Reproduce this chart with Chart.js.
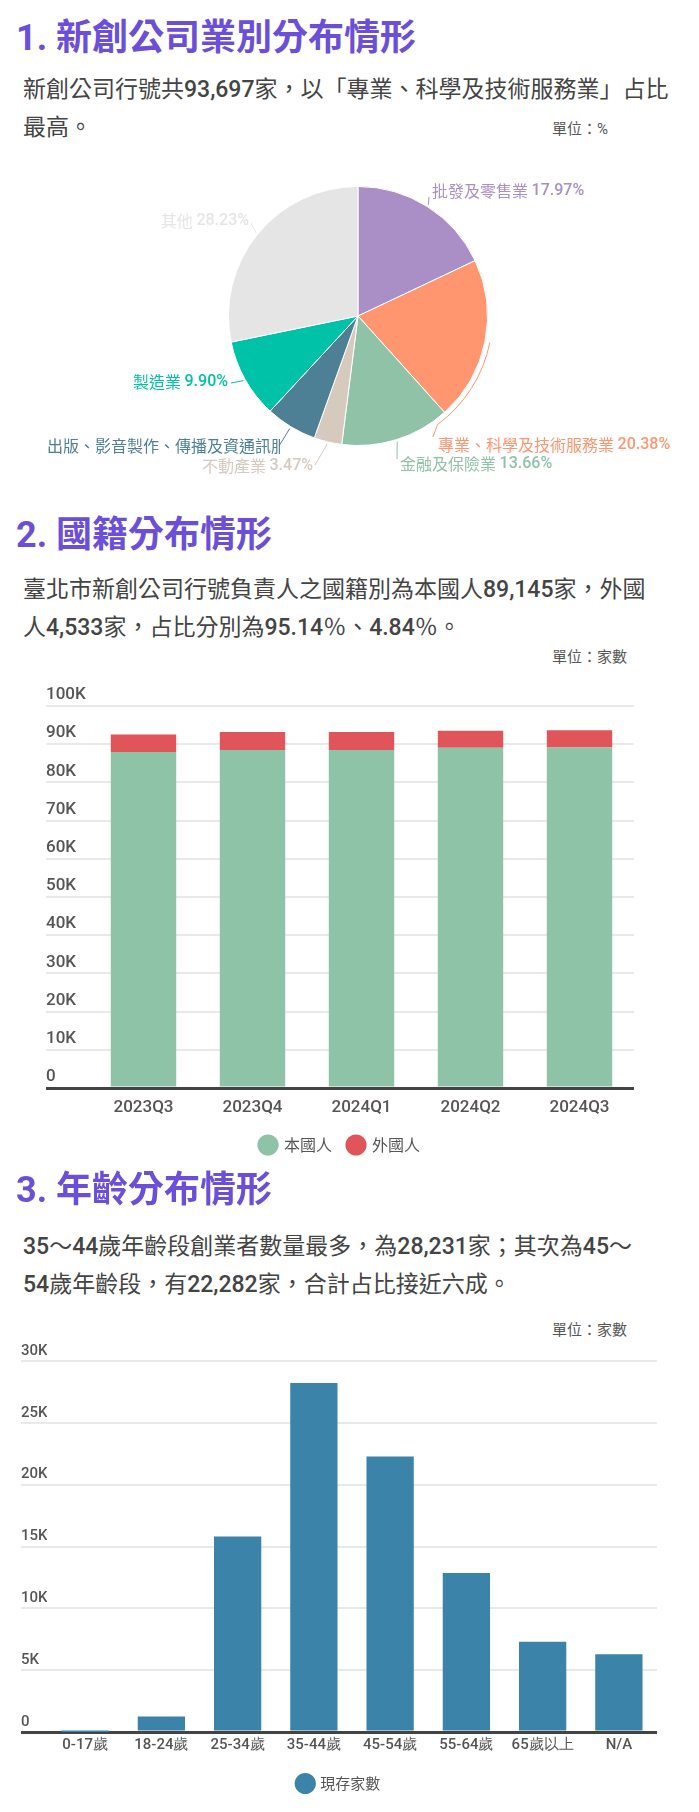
<!DOCTYPE html>
<html lang="zh-Hant">
<head>
<meta charset="utf-8">
<title>新創公司統計</title>
<script src="https://cdn.jsdelivr.net/npm/chart.js@4.4.1/dist/chart.umd.min.js"></script>
<style>
  body { margin: 0; width: 699px; height: 1812px; position: relative; overflow: hidden; background: #fff;
         font-family: Roboto, "Noto Sans CJK TC", sans-serif; color: #444; }
  .title { position: absolute; left: 16px; font-size: 36px; line-height: 36px; font-weight: 700; color: #6b4fd8; white-space: nowrap; }
  .para { position: absolute; left: 23px; width: 670px; font-size: 23px; line-height: 38px; color: #444; white-space: nowrap; }
  .para b { font-weight: 500; }
  .unit { position: absolute; left: 552px; font-size: 15px; line-height: 18px; color: #555; white-space: nowrap; }
  canvas { position: absolute; left: 0; }
</style>
</head>
<body>
<div class="title" style="top:20px">1. 新創公司業別分布情形</div>
<div class="para" style="top:71px">新創公司行號共<b>93,697</b>家，以「專業、科學及技術服務業」占比<br>最高。</div>
<div class="unit" style="top:120px">單位：%</div>
<canvas id="industryPie" width="699" height="350" style="top:150px"></canvas>

<div class="title" style="top:517px">2. 國籍分布情形</div>
<div class="para" style="top:571px">臺北市新創公司行號負責人之國籍別為本國人<b>89,145</b>家，外國<br>人<b>4,533</b>家，占比分別為<b>95.14</b>％、<b>4.84</b>％。</div>
<div class="unit" style="top:648px">單位：家數</div>
<canvas id="nationBar" width="699" height="500" style="top:670px"></canvas>

<div class="title" style="top:1172px">3. 年齡分布情形</div>
<div class="para" style="top:1228px"><b>35</b>～<b>44</b>歲年齡段創業者數量最多，為<b>28,231</b>家；其次為<b>45</b>～<br><b>54</b>歲年齡段，有<b>22,282</b>家，合計占比接近六成。</div>
<div class="unit" style="top:1321px">單位：家數</div>
<canvas id="ageBar" width="699" height="477" style="top:1335px"></canvas>

<script>
// 業別分布 (%)
let industryLabels = ['批發及零售業', '專業、科學及技術服務業', '金融及保險業', '不動產業', '出版、影音製作、傳播及資通訊服務業', '製造業', '其他'];
let industryShare = [17.97, 20.38, 13.66, 3.47, 6.39, 9.90, 28.23];
let industryColors = ['#a98fc6', '#ff9670', '#8fc2a6', '#d6cabf', '#4e8095', '#00c2a8', '#e5e5e5'];

// 國籍分布 (家數)
let quarterLabels = ['2023Q3', '2023Q4', '2024Q1', '2024Q2', '2024Q3'];
let localOwners = [87950, 88500, 88450, 89050, 89145];
let foreignOwners = [4620, 4700, 4720, 4450, 4533];

// 年齡分布 (家數)
let ageLabels = ['0-17歲', '18-24歲', '25-34歲', '35-44歲', '45-54歲', '55-64歲', '65歲以上', 'N/A'];
let ageCounts = [10, 1250, 15800, 28231, 22282, 12850, 7300, 6280];

// where each pie label sits, relative to the pie centre
let pieLabelLayout = [
  {lead: [71, -119], text: [74, -125], align: 'left'},
  {lead: [75, 121], text: [80, 129], align: 'left', bracket: true},
  {lead: [39, 143], text: [42, 148], align: 'left'},
  {lead: [-43, 149], text: [-45, 150], align: 'right'},
  {lead: [-79, 130], text: [-311, 130], align: 'left', clip: -78},
  {lead: [-127, 67], text: [-130, 66], align: 'right'},
  {lead: [-107, -93], text: [-109, -95], align: 'right'}
];

let nameFont = '16px "Noto Sans CJK TC"';
let pctFont = '500 16px Roboto';

let pieLabels = {
  id: 'pieLabels',
  afterDraw(chart) {
    let ctx = chart.ctx;
    let meta = chart.getDatasetMeta(0);
    meta.data.forEach((arc, i) => {
      let p = arc.getProps(['x', 'y', 'startAngle', 'endAngle', 'outerRadius'], true);
      let lay = pieLabelLayout[i];
      let color = industryColors[i];
      let mid = (p.startAngle + p.endAngle) / 2;
      ctx.save();
      ctx.strokeStyle = color;
      ctx.lineWidth = 1;
      ctx.beginPath();
      if (lay.bracket) {
        let r = p.outerRadius + 5;
        ctx.arc(p.x, p.y, r, mid, p.endAngle + 0.1);
      } else {
        let r = p.outerRadius + 2;
        ctx.moveTo(p.x + Math.cos(mid) * r, p.y + Math.sin(mid) * r);
      }
      ctx.lineTo(p.x + lay.lead[0], p.y + lay.lead[1]);
      ctx.stroke();

      if (lay.clip != undefined) {
        ctx.beginPath();
        ctx.rect(0, 0, p.x + lay.clip, chart.height);
        ctx.clip();
      }
      let name = industryLabels[i] + ' ';
      let pct = industryShare[i].toFixed(2) + '%';
      ctx.font = nameFont;
      let w1 = ctx.measureText(name).width;
      ctx.font = pctFont;
      let w2 = ctx.measureText(pct).width;
      let x = p.x + lay.text[0];
      if (lay.align == 'right') x -= w1 + w2;
      let y = p.y + lay.text[1];
      ctx.fillStyle = color;
      ctx.textBaseline = 'middle';
      ctx.textAlign = 'left';
      ctx.font = nameFont;
      ctx.fillText(name, x, y);
      ctx.font = pctFont;
      ctx.fillText(pct, x + w1, y);
      ctx.restore();
    });
  }
};

new Chart(document.getElementById('industryPie'), {
  type: 'pie',
  data: {
    labels: industryLabels,
    datasets: [{data: industryShare, backgroundColor: industryColors, borderColor: '#fff', borderWidth: 1}]
  },
  options: {
    responsive: false,
    animation: false,
    layout: {padding: {top: 36, left: 228, right: 211, bottom: 54}},
    plugins: {legend: {display: false}, tooltip: {enabled: false}}
  },
  plugins: [pieLabels]
});

let tickFont = (size) => ({family: 'Roboto', size: size, weight: '500'});
let kLabel = (v) => v === 0 ? '0' : (v / 1000) + 'K';
let gridColor = (c) => c.tick && c.tick.value === 0 ? '#444' : '#e9e9e9';
let gridWidth = (c) => c.tick && c.tick.value === 0 ? 3 : 2;

new Chart(document.getElementById('nationBar'), {
  type: 'bar',
  data: {
    labels: quarterLabels,
    datasets: [
      {label: '本國人', data: localOwners, backgroundColor: '#8fc3a7'},
      {label: '外國人', data: foreignOwners, backgroundColor: '#e0555a'}
    ]
  },
  options: {
    responsive: false,
    animation: false,
    layout: {padding: {top: 36, left: 46, right: 65, bottom: 7}},
    datasets: {bar: {barPercentage: 0.6, categoryPercentage: 1}},
    scales: {
      x: {
        stacked: true,
        grid: {display: false, drawTicks: false},
        border: {display: false},
        ticks: {padding: 10, color: '#555', font: tickFont(17)},
        afterFit: (scale) => { scale.height = 33; }
      },
      y: {
        stacked: true,
        min: 0,
        max: 100000,
        border: {display: false},
        grid: {color: gridColor, lineWidth: gridWidth, tickLength: 43},
        ticks: {stepSize: 10000, crossAlign: 'far', labelOffset: -11, padding: 0, color: '#555', font: tickFont(17), callback: kLabel},
        afterFit: (scale) => { scale.width = 43; }
      }
    },
    plugins: {
      tooltip: {enabled: false},
      legend: {
        position: 'bottom',
        labels: {usePointStyle: true, pointStyle: 'circle', boxHeight: 15, padding: 16, color: '#555', font: {family: '"Noto Sans CJK TC"', size: 16}}
      }
    }
  }
});

new Chart(document.getElementById('ageBar'), {
  type: 'bar',
  data: {
    labels: ageLabels,
    datasets: [{label: '現存家數', data: ageCounts, backgroundColor: '#3b83a8'}]
  },
  options: {
    responsive: false,
    animation: false,
    layout: {padding: {top: 26, left: 21, right: 42, bottom: 11}},
    datasets: {bar: {barPercentage: 0.62, categoryPercentage: 1}},
    scales: {
      x: {
        grid: {display: false, drawTicks: false},
        border: {display: false},
        ticks: {padding: 4, color: '#555', font: tickFont(15)},
        afterFit: (scale) => { scale.height = 28; }
      },
      y: {
        min: 0,
        max: 30000,
        border: {display: false},
        grid: {color: gridColor, lineWidth: gridWidth, tickLength: 26},
        ticks: {stepSize: 5000, crossAlign: 'far', labelOffset: -10, padding: 0, color: '#555', font: tickFont(15), callback: kLabel},
        afterFit: (scale) => { scale.width = 26; }
      }
    },
    plugins: {
      tooltip: {enabled: false},
      legend: {
        position: 'bottom',
        labels: {usePointStyle: true, pointStyle: 'circle', boxHeight: 15, padding: 16, color: '#555', font: {family: '"Noto Sans CJK TC"', size: 15}}
      }
    }
  }
});
</script>
</body>
</html>
